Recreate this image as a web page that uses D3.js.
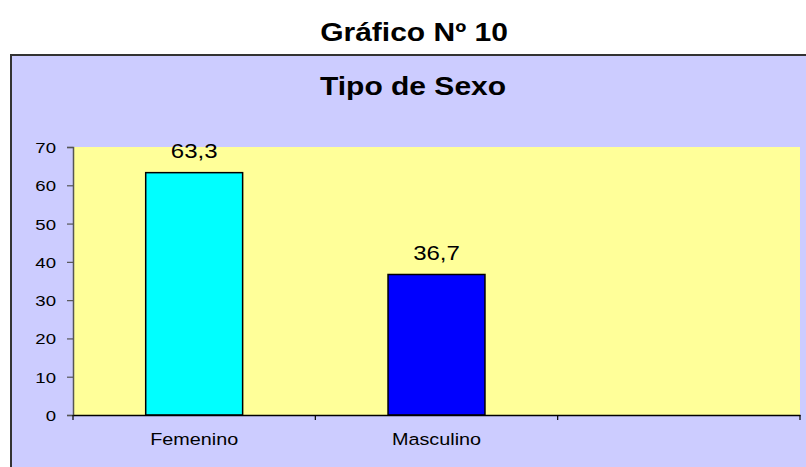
<!DOCTYPE html>
<html>
<head>
<meta charset="utf-8">
<script src="https://cdn.jsdelivr.net/npm/d3@7"></script>
<style>
  body { margin: 0; background: #fff; }
  text { font-family: "Liberation Sans", Arial, sans-serif; fill: #000; }
</style>
</head>
<body>
<div id="chart"></div>
<script>
// Chart data
const categories = ["Femenino", "Masculino", ""];
const values = [63.3, 36.7, null];
const barColors = ["#00ffff", "#0000ff", "#000000"];
const yTicks = [0, 10, 20, 30, 40, 50, 60, 70];
const mainTitle = "Gráfico Nº 10";
const chartTitle = "Tipo de Sexo";

const data = categories.map((c, i) => ({ cat: c, value: values[i], color: barColors[i] }));

const W = 806, H = 467;
const stretch = 1.2; // the original text is a little wide
const margin = { top: 147, right: 6, bottom: 52, left: 73 };
const width = W - margin.left - margin.right;
const height = H - margin.top - margin.bottom;

const svg = d3.select("#chart").append("svg")
  .attr("width", W)
  .attr("height", H);

// outer title, outside the frame
svg.append("text")
  .attr("transform", `translate(414,41) scale(${stretch},1)`)
  .attr("text-anchor", "middle")
  .attr("font-size", 25)
  .attr("font-weight", "bold")
  .text(mainTitle);

// chart frame (runs past the right and bottom edges)
svg.append("rect")
  .attr("x", 11)
  .attr("y", 55)
  .attr("width", 820)
  .attr("height", 430)
  .attr("fill", "#ccccff")
  .attr("stroke", "#333")
  .attr("stroke-width", 2);

svg.append("text")
  .attr("transform", `translate(413,95) scale(${stretch},1)`)
  .attr("text-anchor", "middle")
  .attr("font-size", 25)
  .attr("font-weight", "bold")
  .text(chartTitle);

const g = svg.append("g")
  .attr("transform", `translate(${margin.left},${margin.top})`);

// scales
const xBand = d3.scaleBand().domain(categories).range([0, width]);
const xBar = d3.scaleBand().domain(categories).range([0, width])
  .paddingInner(0.6).paddingOuter(0.3);
const y = d3.scaleLinear().domain([0, 70]).range([height, 0]);

// plot area
g.append("rect")
  .attr("width", width)
  .attr("height", height)
  .attr("fill", "#ffff99");

// bars
const shown = data.filter(d => d.value != null);
g.selectAll("rect.bar")
  .data(shown)
  .enter()
  .append("rect")
  .attr("class", "bar")
  .attr("x", d => xBar(d.cat))
  .attr("y", d => y(d.value))
  .attr("width", xBar.bandwidth())
  .attr("height", d => height - y(d.value))
  .attr("fill", d => d.color)
  .attr("stroke", "#000")
  .attr("stroke-width", 1.5);

// value labels
g.selectAll("text.val")
  .data(shown)
  .enter()
  .append("text")
  .attr("class", "val")
  .attr("transform", d => `translate(${xBar(d.cat) + xBar.bandwidth() / 2},${y(d.value) - 14.5}) scale(${stretch},1)`)
  .attr("text-anchor", "middle")
  .attr("font-size", 20)
  .text(d => d3.format(".1f")(d.value).replace(".", ","));

// y axis
const yAxis = g.append("g")
  .call(d3.axisLeft(y).tickValues(yTicks).tickSize(6).tickPadding(0));
yAxis.select(".domain").attr("stroke", "#555").attr("stroke-width", 1.5);
yAxis.selectAll(".tick line").attr("stroke", "#555").attr("stroke-width", 1.2);
yAxis.selectAll(".tick text")
  .attr("x", -17 / stretch)
  .attr("dy", "0.35em")
  .attr("transform", `scale(${stretch},1)`)
  .attr("font-size", 15.5)
  .attr("font-family", "Liberation Sans, Arial, sans-serif")
  .attr("fill", "#000");

// x axis: labels at band centres, ticks at band edges
const xAxis = g.append("g")
  .attr("transform", `translate(0,${height})`)
  .call(d3.axisBottom(xBand).tickSize(0).tickSizeOuter(0).tickPadding(0));
xAxis.select(".domain").attr("stroke", "#000").attr("stroke-width", 1.5);
xAxis.selectAll(".tick text")
  .attr("y", 30)
  .attr("dy", 0)
  .attr("transform", `scale(${stretch},1)`)
  .attr("font-size", 16.5)
  .attr("font-family", "Liberation Sans, Arial, sans-serif")
  .attr("fill", "#000");

const edges = categories.map(c => xBand(c)).concat([width]);
xAxis.selectAll("line.edge")
  .data(edges)
  .enter()
  .append("line")
  .attr("class", "edge")
  .attr("x1", d => d)
  .attr("x2", d => d)
  .attr("y1", 0)
  .attr("y2", 5)
  .attr("stroke", "#000")
  .attr("stroke-width", 1.2);
</script>
</body>
</html>
